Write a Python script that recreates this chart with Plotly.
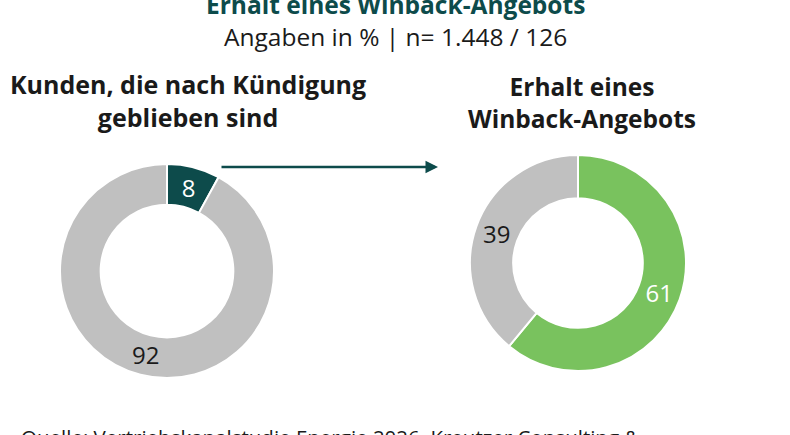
import math
import plotly.graph_objects as go

W, H = 790, 435

title = "Erhalt eines Winback-Angebots"
subtitle = "Angaben in % | n= 1.448 / 126"
left_title = "Kunden, die nach Kündigung<br>geblieben sind"
right_title = "Erhalt eines<br>Winback-Angebots"
source = "Quelle: Vertriebskanalstudie Energie 2026, Kreutzer Consulting &"

left_labels = ["geblieben", "nicht geblieben"]
left_values = [8, 92]
right_labels = ["Winback-Angebot erhalten", "kein Angebot"]
right_values = [61, 39]

TEAL = "#0d4b4b"
GREY = "#c0c0c0"
GREEN = "#79c25e"
DARK = "#1a1a1a"
FONT = "Open Sans"


def py(px):
    return 1 - px / H


def pxx(px):
    return px / W


# left donut geometry (pixels)
L_X0, L_X1, L_Y0, L_Y1 = 60, 274, 164, 378
L_HOLE = 0.62

fig = go.Figure()

fig.add_trace(go.Pie(
    labels=left_labels, values=left_values, hole=L_HOLE, sort=False,
    direction="clockwise", rotation=0,
    marker=dict(colors=[TEAL, GREY], line=dict(color="white", width=2)),
    texttemplate=["%{value}", ""], textposition="inside", insidetextorientation="horizontal",
    textfont=dict(family=FONT, size=24, color=["white", DARK]),
    domain=dict(x=[pxx(L_X0), pxx(L_X1)], y=[py(L_Y1), py(L_Y0)]),
    showlegend=False, hoverinfo="label+value",
))

fig.add_trace(go.Pie(
    labels=right_labels, values=right_values, hole=0.6, sort=False,
    direction="clockwise", rotation=0,
    marker=dict(colors=[GREEN, GREY], line=dict(color="white", width=2)),
    textinfo="value", textposition="inside", insidetextorientation="horizontal",
    textfont=dict(family=FONT, size=24, color=["white", DARK]),
    domain=dict(x=[pxx(470), pxx(686)], y=[py(371), py(155)]),
    showlegend=False, hoverinfo="label+value",
))

# label of the large grey slice at its mid-angle (computed from the data)
tot = sum(left_values)
mid = (left_values[0] + left_values[1] / 2) / tot * 2 * math.pi
cx, cy = (L_X0 + L_X1) / 2, (L_Y0 + L_Y1) / 2
R = (L_X1 - L_X0) / 2
rm = R * (1 + L_HOLE) / 2
lx, ly = cx + rm * math.sin(mid), cy - rm * math.cos(mid)

ann = [
    dict(text=f"<b>{title}</b>", x=0.5, y=py(5), font=dict(family=FONT, size=24.5, color=TEAL)),
    dict(text=subtitle, x=0.5, y=py(37), font=dict(family=FONT, size=24.5, color=DARK)),
    dict(text=f"<b>{left_title}</b>", x=pxx(188), y=py(101), font=dict(family=FONT, size=25, color=DARK)),
    dict(text=f"<b>{right_title}</b>", x=pxx(582), y=py(103), font=dict(family=FONT, size=24.5, color=DARK)),
    dict(text=source, x=pxx(19), y=py(437), xanchor="left", font=dict(family=FONT, size=20.5, color=DARK)),
    dict(text=str(left_values[1]), x=pxx(lx), y=py(ly), font=dict(family=FONT, size=24, color=DARK)),
]
annotations = []
for a in ann:
    d = dict(xref="paper", yref="paper", showarrow=False, yanchor="middle")
    d.setdefault("xanchor", "center")
    d.update(a)
    annotations.append(d)

annotations.append(dict(
    xref="paper", yref="paper", x=pxx(438), y=py(167), ax=-218, ay=0,
    text="", showarrow=True, arrowhead=2, arrowsize=1, arrowwidth=2.5, arrowcolor=TEAL,
))

fig.update_layout(
    width=W, height=H, margin=dict(l=0, r=0, t=0, b=0),
    paper_bgcolor="white", plot_bgcolor="white",
    annotations=annotations,
    font=dict(family=FONT),
)

fig.write_html(
    "out.html",
    config={"displayModeBar": False},
    post_script="document.body.style.margin='0';document.body.style.overflow='hidden';",
)
